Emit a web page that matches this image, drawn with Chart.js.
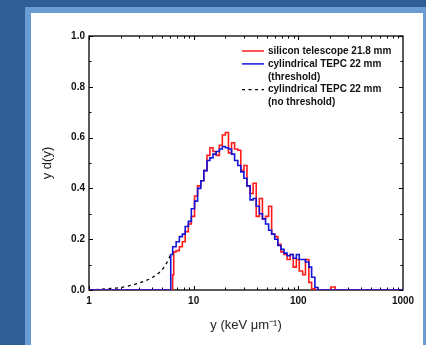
<!DOCTYPE html>
<html>
<head>
<meta charset="utf-8">
<script src="https://cdn.jsdelivr.net/npm/chart.js@4.4.1/dist/chart.umd.min.js"></script>
<style>
  html, body { margin: 0; padding: 0; }
  body { width: 426px; height: 345px; overflow: hidden; background: #2e5e94; position: relative; }
  #panel { position: absolute; left: 25px; top: 7px; width: 392px; height: 400px;
           border: 6px solid #6a9bd2; background: #fff; }
  #grafica { position: absolute; left: 0; top: 0; }
</style>
</head>
<body>
<div id="panel"></div>
<canvas id="grafica" width="426" height="345"></canvas>
<script type="text/javascript">

    // eje x (keV/um) y valores
    var xTicks = [1, 10, 100, 1000]
    var yTicks = [0, 0.2, 0.4, 0.6, 0.8, 1.0]

    // telescopio de silicio 21.8 mm (cada valor vale desde su x hasta la x siguiente)
    var siliconX = [1, 6.3, 6.45, 6.8, 7.3, 7.8, 8.3, 8.9, 9.5, 10.2, 10.9, 11.7, 12.5, 13.4, 14.3, 15.3, 16.4, 17.6, 18.8, 20.1, 21.5, 23.0, 24.6, 26.4, 28.2, 30.2, 32.3, 34.6, 37.0, 39.6, 42.4, 45.4, 48.6, 52.0, 55.6, 59.5, 63.7, 68.2, 73.0, 78.1, 83.6, 89.4, 95.7, 102, 110, 117, 126, 134, 144, 205, 225, 1000]
    var siliconY = [0, 0.06, 0.15, 0.155, 0.17, 0.19, 0.23, 0.26, 0.29, 0.37, 0.41, 0.43, 0.47, 0.53, 0.56, 0.545, 0.53, 0.57, 0.61, 0.62, 0.54, 0.58, 0.555, 0.55, 0.47, 0.49, 0.41, 0.38, 0.42, 0.29, 0.36, 0.28, 0.29, 0.33, 0.22, 0.21, 0.18, 0.15, 0.14, 0.12, 0.14, 0.09, 0.12, 0.075, 0.06, 0.12, 0.03, 0.005, 0, 0.012, 0, 0]

    // TEPC cilindrico 22 mm (con umbral)
    var tepcX = [1, 6.04, 6.3, 6.8, 7.3, 7.8, 8.3, 8.9, 9.5, 10.2, 10.9, 11.7, 12.5, 13.4, 14.3, 15.3, 16.4, 17.6, 18.8, 20.1, 21.5, 23.0, 24.6, 26.4, 28.2, 30.2, 32.3, 34.6, 37.0, 39.6, 42.4, 45.4, 48.6, 52.0, 55.6, 59.5, 63.7, 68.2, 73.0, 78.1, 83.6, 89.4, 95.7, 102, 110, 117, 126, 134, 144, 154, 1000]
    var tepcY = [0, 0.14, 0.17, 0.19, 0.21, 0.22, 0.25, 0.27, 0.32, 0.35, 0.40, 0.43, 0.47, 0.51, 0.52, 0.535, 0.545, 0.555, 0.565, 0.56, 0.555, 0.535, 0.51, 0.49, 0.465, 0.44, 0.41, 0.355, 0.36, 0.33, 0.30, 0.28, 0.26, 0.235, 0.22, 0.20, 0.175, 0.16, 0.145, 0.135, 0.14, 0.125, 0.14, 0.12, 0.12, 0.11, 0.09, 0.05, 0.01, 0, 0]

    // TEPC cilindrico 22 mm (sin umbral), solo la parte visible bajo 6 keV/um
    var noThrX = [1, 1.3, 1.6, 2.0, 2.5, 3.0, 3.5, 4.0, 4.5, 5.0, 5.5, 6.04]
    var noThrY = [0, 0.003, 0.006, 0.01, 0.018, 0.027, 0.037, 0.048, 0.062, 0.08, 0.105, 0.14]

    var leyenda = [
        {lineas: ["silicon telescope 21.8 mm"], color: "#ff1a1a", dash: []},
        {lineas: ["cylindrical TEPC 22 mm", "(threshold)"], color: "#1414d8", dash: []},
        {lineas: ["cylindrical TEPC 22 mm", "(no threshold)"], color: "#000", dash: [3, 3.5]}
    ]

    function puntos(xs, ys) {
        let res = []
        xs.forEach((x, i) => res.push({x: x, y: ys[i]}))
        return res
    }

    var fuenteTicks = {family: "Arial, 'Liberation Sans'", size: 10, weight: "bold"}

    // marco, marcas hacia dentro y leyenda
    var marcoPlugin = {
        id: "marco",
        beforeDatasetsDraw(chart) {
            let ctx = chart.ctx
            let a = chart.chartArea
            let sx = chart.scales.x
            let sy = chart.scales.y
            ctx.save()
            ctx.strokeStyle = "#000"
            ctx.lineWidth = 1
            ctx.beginPath()
            // marcas en x (log)
            for (let d = 1; d < 1000; d *= 10) {
                for (let k = 1; k < 10; k++) {
                    let px = Math.round(sx.getPixelForValue(d * k)) + 0.5
                    let len = k === 1 ? 4 : 2.5
                    ctx.moveTo(px, a.bottom); ctx.lineTo(px, a.bottom - len)
                    ctx.moveTo(px, a.top); ctx.lineTo(px, a.top + len)
                }
            }
            // marcas en y
            for (let i = 0; i <= 10; i++) {
                let py = Math.round(sy.getPixelForValue(i / 10)) + 0.5
                let len = i % 2 === 0 ? 4 : 2.5
                ctx.moveTo(a.left, py); ctx.lineTo(a.left + len, py)
                ctx.moveTo(a.right, py); ctx.lineTo(a.right - len, py)
            }
            ctx.stroke()
            ctx.lineWidth = 1.3
            ctx.strokeRect(a.left, a.top, a.right - a.left, a.bottom - a.top)
            ctx.restore()
        },
        afterDraw(chart) {
            let ctx = chart.ctx
            let a = chart.chartArea
            let x0 = a.right - 161
            let y = a.top + 15
            ctx.save()
            ctx.font = "bold 10px Arial, 'Liberation Sans'"
            ctx.textBaseline = "middle"
            ctx.fillStyle = "#111"
            leyenda.forEach(item => {
                ctx.strokeStyle = item.color
                ctx.lineWidth = item.dash.length ? 1.3 : 1.5
                ctx.setLineDash(item.dash)
                ctx.beginPath()
                ctx.moveTo(x0, y); ctx.lineTo(x0 + 22, y)
                ctx.stroke()
                ctx.setLineDash([])
                item.lineas.forEach(t => {
                    ctx.fillText(t, x0 + 26, y)
                    y += 12.9
                })
            })
            ctx.restore()
        }
    }

    var canvas = document.getElementById('grafica')
    var context = canvas.getContext('2d')

    window.grafica = new Chart(context, {
        type: "line",
        data: {
            datasets: [{
                label: "cylindrical TEPC 22 mm (threshold)",
                data: puntos(tepcX, tepcY),
                borderColor: "#1414d8",
                borderWidth: 1.6,
                stepped: "before",
                pointRadius: 0,
                order: 0
            }, {
                label: "silicon telescope 21.8 mm",
                data: puntos(siliconX, siliconY),
                borderColor: "#ff1a1a",
                borderWidth: 1.6,
                stepped: "before",
                pointRadius: 0,
                order: 1
            }, {
                label: "cylindrical TEPC 22 mm (no threshold)",
                data: puntos(noThrX, noThrY),
                borderColor: "#000",
                borderWidth: 1.3,
                borderDash: [3, 3.5],
                tension: 0.3,
                pointRadius: 0,
                order: 2
            }]
        },
        options: {
            responsive: false,
            animation: false,
            layout: {padding: 0},
            plugins: {
                legend: {display: false},
                tooltip: {enabled: false}
            },
            scales: {
                x: {
                    type: "logarithmic",
                    position: "bottom",
                    min: 1,
                    max: 1000,
                    grid: {display: false, drawTicks: false},
                    border: {display: false},
                    afterBuildTicks: s => { s.ticks = xTicks.map(v => ({value: v})) },
                    afterFit: s => { s.height = 55 },
                    ticks: {
                        color: "#111",
                        font: fuenteTicks,
                        padding: 5,
                        maxRotation: 0,
                        autoSkip: false,
                        callback: v => String(v)
                    },
                    title: {
                        display: true,
                        text: "y (keV \u03bcm\u207b\u00b9)",
                        color: "#222",
                        font: {family: "Arial, 'Liberation Sans'", size: 13},
                        padding: {top: 0, bottom: 12}
                    }
                },
                xTop: {
                    type: "logarithmic",
                    position: "top",
                    min: 1,
                    max: 1000,
                    grid: {display: false, drawTicks: false},
                    border: {display: false},
                    ticks: {display: false},
                    afterFit: s => { s.height = 36 }
                },
                y: {
                    position: "left",
                    min: 0,
                    max: 1,
                    grid: {display: false, drawTicks: false},
                    border: {display: false},
                    afterBuildTicks: s => { s.ticks = yTicks.map(v => ({value: v})) },
                    afterFit: s => { s.width = 89 },
                    ticks: {
                        color: "#111",
                        font: fuenteTicks,
                        padding: 4,
                        callback: v => Number(v).toFixed(1)
                    },
                    title: {
                        display: true,
                        text: "y d(y)",
                        color: "#222",
                        font: {family: "Arial, 'Liberation Sans'", size: 13},
                        padding: {top: 40, bottom: 0}
                    }
                },
                yRight: {
                    position: "right",
                    min: 0,
                    max: 1,
                    grid: {display: false, drawTicks: false},
                    border: {display: false},
                    ticks: {display: false},
                    afterFit: s => { s.width = 23 }
                }
            }
        },
        plugins: [marcoPlugin]
    });

</script>
</body>
</html>
